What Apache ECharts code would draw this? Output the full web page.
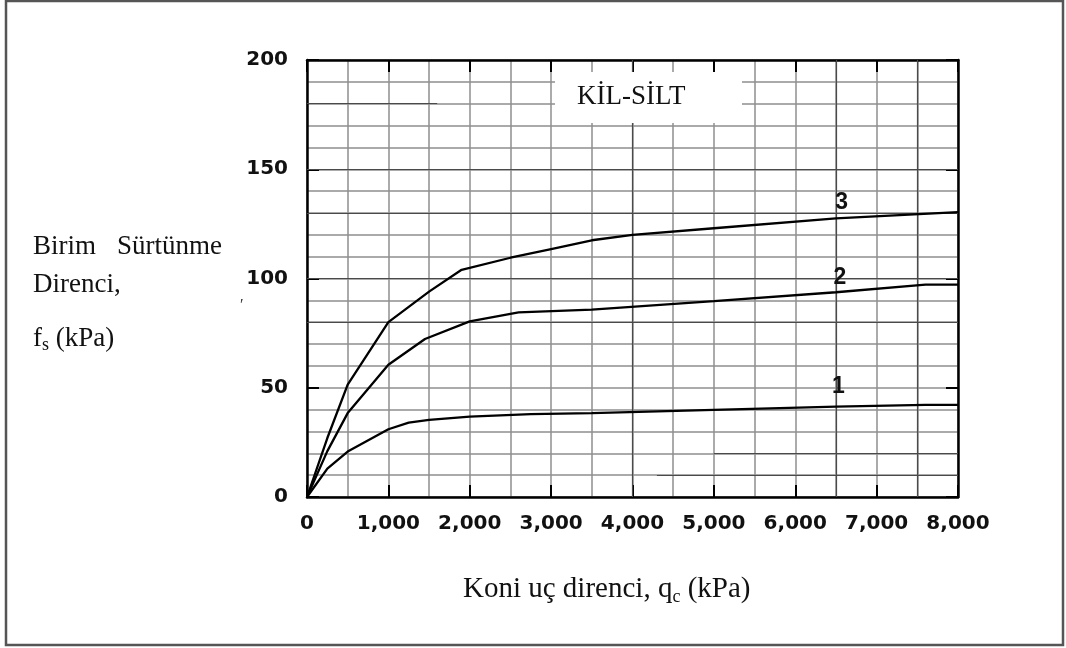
<!DOCTYPE html>
<html>
<head>
<meta charset="utf-8">
<script src="https://cdn.jsdelivr.net/npm/echarts@6/dist/echarts.min.js"></script>
<style>
  html, body { margin: 0; padding: 0; background: #fff; }
  #chart { width: 1066px; height: 648px; }
</style>
</head>
<body>
<div id="chart"></div>
<script>
// Cone tip resistance qc (kPa) vs. unit side friction fs (kPa), clay-silt curves 1-3
const curve1Qc = [0, 250, 500, 1000, 1250, 1500, 2000, 2750, 3500, 5000, 6500, 7600, 8000];
const curve1Fs = [0, 13, 20.8, 31, 34, 35.3, 36.8, 37.9, 38.4, 39.9, 41.4, 42.2, 42.2];

const curve2Qc = [0, 250, 500, 1000, 1450, 2000, 2600, 3500, 5000, 6500, 7600, 8000];
const curve2Fs = [0, 21, 38.4, 60.5, 72.3, 80.4, 84.5, 85.8, 89.6, 93.7, 97.2, 97.2];

const curve3Qc = [0, 250, 500, 1000, 1500, 1900, 2500, 3000, 3500, 4000, 5000, 6500, 8000];
const curve3Fs = [0, 27, 51.4, 80, 94, 104, 109.5, 113.5, 117.5, 120, 123, 127.5, 130.4];

const curveNames = ['1', '2', '3'];

const xTicks = [0, 1000, 2000, 3000, 4000, 5000, 6000, 7000, 8000];
const yTicks = [0, 50, 100, 150, 200];

// Heavier printed rules of the chart paper: [fs, qc from, qc to] and [qc, fs from, fs to]
const heavyRulesFs = [[180, 0, 1600], [150, 0, 8000], [130, 0, 8000], [100, 0, 8000], [80, 0, 8000], [20, 5000, 8000], [10, 4300, 8000]];
const heavyRulesQc = [[4000, 0, 200], [6500, 0, 200], [7500, 0, 200]];

const toPairs = (xs, ys) => xs.map((x, i) => [x, ys[i]]);
const withComma = v => String(v).replace(/\B(?=(\d{3})+(?!\d))/g, ',');

const GRID_GRAY = '#8f8f8f';
const tickFont = { fontFamily: 'DejaVu Sans', fontWeight: 'bold', fontSize: 20, color: '#111' };
const SERIF = '"Liberation Serif"';

const chart = echarts.init(document.getElementById('chart'));

function curveSeries(name, xs, ys, labelAt) {
  return {
    name: name,
    type: 'line',
    data: toPairs(xs, ys),
    showSymbol: false,
    symbol: 'none',
    smooth: false,
    lineStyle: { color: '#000', width: 2.3 },
    z: 5,
    markPoint: {
      symbol: 'circle',
      symbolSize: 0,
      silent: true,
      label: {
        show: true,
        position: 'inside',
        formatter: name,
        fontFamily: 'Liberation Sans',
        fontWeight: 'bold',
        fontSize: 23,
        color: '#111'
      },
      data: [{ coord: labelAt }]
    }
  };
}

const ruleLines = heavyRulesFs.map(r => [{ coord: [r[1], r[0]] }, { coord: [r[2], r[0]] }])
  .concat(heavyRulesQc.map(r => [{ coord: [r[0], r[1]] }, { coord: [r[0], r[2]] }]));

const option = {
  backgroundColor: '#fff',
  animation: false,
  grid: { left: 307, right: 108, top: 60, bottom: 151, containLabel: false },
  xAxis: [
    {
      type: 'value', min: 0, max: 8000, interval: 1000, position: 'bottom',
      axisLine: { show: true, onZero: false, lineStyle: { color: '#000', width: 2.5 } },
      axisTick: { show: true, inside: true, length: 12, lineStyle: { color: '#000', width: 2 } },
      axisLabel: { ...tickFont, margin: 17, formatter: v => xTicks.includes(v) ? withComma(v) : '' },
      splitLine: { show: true, lineStyle: { color: GRID_GRAY, width: 1.5 } },
      minorTick: { show: false, splitNumber: 2 },
      minorSplitLine: { show: true, lineStyle: { color: GRID_GRAY, width: 1.5 } }
    },
    {
      type: 'value', min: 0, max: 8000, interval: 1000, position: 'top',
      axisLine: { show: true, onZero: false, lineStyle: { color: '#000', width: 2.5 } },
      axisTick: { show: true, inside: true, length: 12, lineStyle: { color: '#000', width: 2 } },
      axisLabel: { show: false },
      splitLine: { show: false }
    }
  ],
  yAxis: [
    {
      type: 'value', min: 0, max: 200, interval: 50, position: 'left',
      axisLine: { show: true, onZero: false, lineStyle: { color: '#000', width: 2.5 } },
      axisTick: { show: true, inside: true, length: 12, lineStyle: { color: '#000', width: 2 } },
      axisLabel: { ...tickFont, margin: 19, formatter: v => yTicks.includes(v) ? String(v) : '' },
      splitLine: { show: true, lineStyle: { color: GRID_GRAY, width: 1.5 } },
      minorTick: { show: false, splitNumber: 5 },
      minorSplitLine: { show: true, lineStyle: { color: GRID_GRAY, width: 1.5 } }
    },
    {
      type: 'value', min: 0, max: 200, interval: 50, position: 'right',
      axisLine: { show: true, onZero: false, lineStyle: { color: '#000', width: 2.5 } },
      axisTick: { show: true, inside: true, length: 12, lineStyle: { color: '#000', width: 2 } },
      axisLabel: { show: false },
      splitLine: { show: false }
    }
  ],
  series: [
    {
      name: 'rules',
      type: 'line',
      data: [],
      silent: true,
      z: 1,
      markLine: {
        silent: true,
        symbol: ['none', 'none'],
        label: { show: false },
        lineStyle: { color: '#4a4a4a', width: 1.2, type: 'solid' },
        data: ruleLines
      }
    },
    curveSeries(curveNames[0], curve1Qc, curve1Fs, [6530, 50.6]),
    curveSeries(curveNames[1], curve2Qc, curve2Fs, [6550, 100.3]),
    curveSeries(curveNames[2], curve3Qc, curve3Fs, [6570, 134.7])
  ],
  graphic: [
    {
      type: 'rect', z: 100, silent: true,
      shape: { x: 6, y: 1, width: 1057, height: 644 },
      style: { fill: 'none', stroke: '#555', lineWidth: 2.5 }
    },
    {
      type: 'rect', z: 100, silent: true,
      shape: { x: 555, y: 72, width: 187, height: 51 },
      style: { fill: '#fff', stroke: 'none' }
    },
    {
      type: 'text', z: 101, silent: true, left: 577, top: 83,
      style: { text: 'KİL-SİLT', font: '27px ' + SERIF, fill: '#111' }
    },
    {
      type: 'text', z: 101, silent: true, left: 463, top: 575,
      style: {
        text: '{m|Koni uç direnci, q}{s|c}{m| (kPa)}',
        rich: {
          m: { font: '29px ' + SERIF, fill: '#111', lineHeight: 33 },
          s: { font: '18px ' + SERIF, fill: '#111', lineHeight: 33, verticalAlign: 'bottom' }
        }
      }
    },
    {
      type: 'text', z: 101, silent: true, left: 33, top: 233,
      style: { text: 'Birim', font: '27px ' + SERIF, fill: '#111' }
    },
    {
      type: 'text', z: 101, silent: true, right: 1066 - 222, top: 233,
      style: { text: 'Sürtünme', font: '27px ' + SERIF, fill: '#111' }
    },
    {
      type: 'text', z: 101, silent: true, left: 33, top: 271,
      style: { text: 'Direnci,', font: '27px ' + SERIF, fill: '#111' }
    },
    {
      type: 'text', z: 101, silent: true, left: 33, top: 325,
      style: {
        text: '{m|f}{s|s}{m| (kPa)}',
        rich: {
          m: { font: '27px ' + SERIF, fill: '#111', lineHeight: 32 },
          s: { font: '18px ' + SERIF, fill: '#111', lineHeight: 32, verticalAlign: 'bottom' }
        }
      }
    },
    {
      type: 'text', z: 101, silent: true, left: 240, top: 298,
      style: { text: '\u02b9', font: '16px ' + SERIF, fill: '#333' }
    }
  ]
};

chart.setOption(option);
</script>
</body>
</html>
